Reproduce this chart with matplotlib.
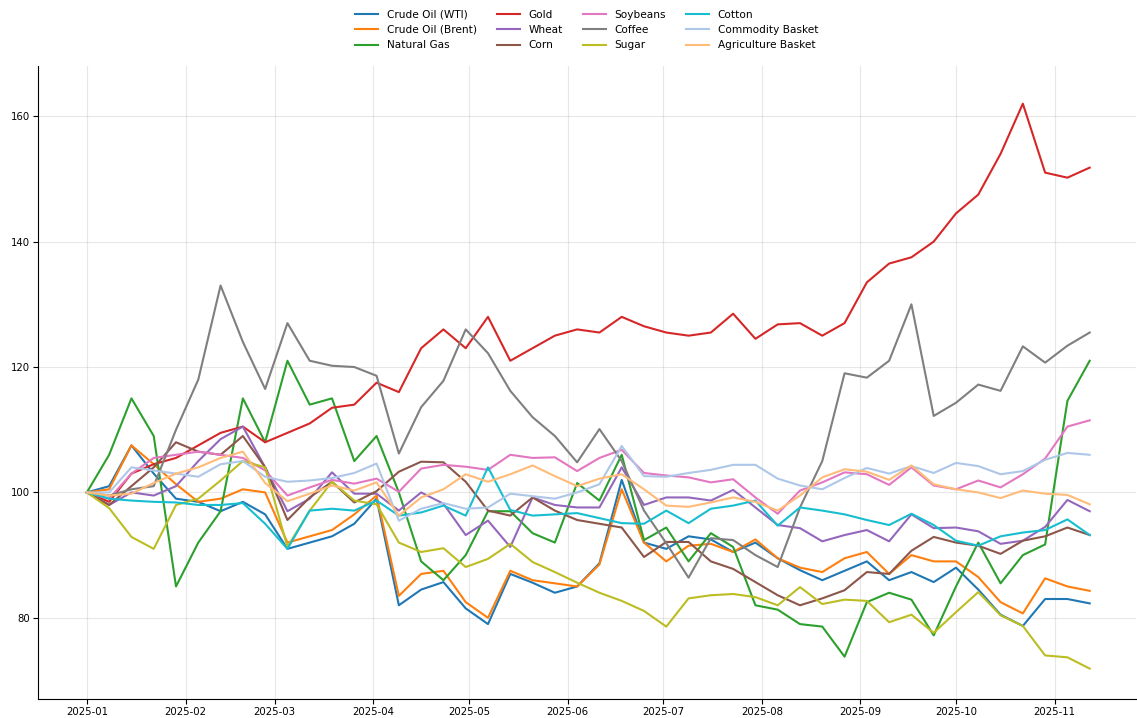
import pandas as pd
import matplotlib
matplotlib.use("Agg")
import matplotlib.pyplot as plt
import matplotlib.dates as mdates

# weekly index values (base 100 on 2025-01-01)
dates = pd.date_range("2025-01-01", periods=46, freq="7D")

wti = [100, 101, 107.5, 103, 99, 98.5, 97, 98.5, 96.5, 91, 92, 93, 95, 99, 82, 84.5,
       85.7, 81.5, 79, 87, 85.6, 84, 85, 88.7, 102, 92, 91, 93, 92.5, 90.5, 92, 89.5,
       87.6, 86, 87.5, 89, 86, 87.3, 85.7, 88, 84.5, 80.5, 78.7, 83, 83, 82.3]
brent = [100, 100.5, 107.5, 104.5, 101.3, 98.5, 99, 100.5, 100, 92, 93, 94, 96.5, 99.5,
         83.5, 87, 87.5, 82.5, 80, 87.5, 86, 85.5, 85, 88.5, 100.5, 92, 89, 91.5, 91.8,
         90.5, 92.5, 89.5, 88, 87.3, 89.5, 90.5, 87, 90, 89, 89, 86.5, 82.5, 80.7, 86.3,
         85, 84.3]
natgas = [100, 106, 115, 109, 85, 92, 97, 115, 108, 121, 114, 115, 105, 109, 100, 89, 86,
          90, 97, 97, 93.5, 92, 101.5, 98.7, 106, 92.4, 94.4, 89, 93.5, 91.3, 82, 81.3, 79,
          78.6, 73.8, 82.5, 84, 82.9, 77.2, 85, 92, 85.5, 90, 91.7, 114.6, 121]
gold = [100, 98.5, 103, 104.5, 105.5, 107.5, 109.5, 110.5, 108, 109.5, 111, 113.5, 114,
        117.5, 116, 123, 126, 123, 128, 121, 123, 125, 126, 125.5, 128, 126.5, 125.5, 125,
        125.5, 128.5, 124.5, 126.8, 127, 125, 127, 133.5, 136.5, 137.5, 140, 144.5, 147.5,
        154, 162, 151, 150.2, 151.8]
wheat = [100, 98, 100, 99.5, 101, 105, 108.5, 110.5, 104, 97, 99, 103.2, 99.8, 99.8, 97.1,
         100, 98.2, 93.2, 95.5, 91.3, 99.2, 98, 97.6, 97.6, 104, 98, 99.2, 99.2, 98.7,
         100.4, 97.6, 94.8, 94.3, 92.2, 93.2, 94, 92.2, 96.5, 94.3, 94.4, 93.8, 91.8, 92.3,
         94.5, 98.8, 97]
corn = [100, 98, 101, 104, 108, 106.5, 106, 109, 104, 95.6, 99.2, 101.7, 98.4, 100.2,
        103.3, 104.9, 104.8, 101.7, 97.1, 96.3, 99.2, 97.1, 95.6, 95, 94.4, 89.7, 92.1,
        92.1, 89, 87.8, 85.7, 83.6, 82, 83.1, 84.4, 87.3, 87, 90.7, 92.9, 92, 91.5, 90.2,
        92.3, 93, 94.4, 93.2]
soybeans = [100, 99, 103, 105.5, 106, 106.5, 106, 105.5, 103.5, 99.5, 100.8, 102, 101.4,
            102.2, 100.1, 103.8, 104.4, 104.1, 103.6, 106, 105.5, 105.6, 103.4, 105.5,
            106.8, 103.1, 102.7, 102.4, 101.6, 102.1, 99.2, 96.6, 100.3, 101.6, 103.2,
            102.9, 101.2, 104, 101.1, 100.5, 101.9, 100.8, 102.9, 105.4, 110.5, 111.5]
coffee = [100, 99.5, 100.5, 101, 110, 118, 133, 124, 116.5, 127, 121, 120.2, 120, 118.6,
          106.2, 113.6, 117.8, 126, 122.2, 116.2, 112, 109, 104.8, 110.1, 105, 97.1, 91.9,
          86.4, 92.7, 92.4, 90, 88.1, 97.6, 105, 119, 118.3, 121, 130, 112.2, 114.3, 117.2,
          116.2, 123.3, 120.7, 123.4, 125.5]
sugar = [100, 97.5, 92.9, 91, 98, 99, 101.9, 105, 104, 91.3, 97.1, 101.7, 98.7, 98.1, 92,
         90.5, 91.1, 88.1, 89.4, 91.8, 88.9, 87.3, 85.6, 84, 82.7, 81.1, 78.6, 83.1, 83.6,
         83.8, 83.3, 82, 84.9, 82.2, 82.9, 82.7, 79.3, 80.5, 77.6, 80.9, 84.1, 80.4, 78.7,
         74, 73.7, 71.9]
cotton = [100, 99, 98.7, 98.5, 98.4, 98, 98, 98.3, 95, 91, 97.1, 97.4, 97.1, 98.7, 96.3,
          96.8, 97.9, 96.3, 104, 97.2, 96.3, 96.5, 96.7, 95.9, 95.1, 95, 97.1, 95.1, 97.4,
          97.9, 98.7, 94.7, 97.6, 97.1, 96.5, 95.6, 94.8, 96.6, 94.8, 92.3, 91.5, 93, 93.6,
          94, 95.7, 93.2]
commodity = [100, 100, 104, 103.5, 103, 102.5, 104.5, 105, 102.5, 101.7, 101.9, 102.3,
             103.1, 104.6, 95.5, 97.4, 98.3, 97.4, 97.6, 99.8, 99.4, 99, 100, 101.3, 107.4,
             102.6, 102.5, 103.1, 103.6, 104.4, 104.4, 102.2, 101.1, 100.5, 102.3, 103.9,
             103, 104.2, 103.1, 104.7, 104.2, 102.9, 103.4, 105.2, 106.3, 106]
agri = [100, 99.5, 99.8, 101.5, 103, 104, 105.5, 106.5, 101.5, 98.6, 99.8, 101.1, 100.3,
        101.6, 96.3, 99.2, 100.5, 102.9, 101.7, 102.9, 104.3, 102.6, 101, 102.2, 102.9,
        100.5, 97.9, 97.7, 98.4, 99.2, 98.5, 97.1, 99.5, 102.4, 103.7, 103.3, 102, 104.3,
        101.3, 100.5, 100, 99.1, 100.3, 99.8, 99.6, 98.1]

series = [
    ("Crude Oil (WTI)", wti, "#1f77b4"),
    ("Crude Oil (Brent)", brent, "#ff7f0e"),
    ("Natural Gas", natgas, "#2ca02c"),
    ("Gold", gold, "#d62728"),
    ("Wheat", wheat, "#9467bd"),
    ("Corn", corn, "#8c564b"),
    ("Soybeans", soybeans, "#e377c2"),
    ("Coffee", coffee, "#7f7f7f"),
    ("Sugar", sugar, "#bcbd22"),
    ("Cotton", cotton, "#17becf"),
    ("Commodity Basket", commodity, "#aec7e8"),
    ("Agriculture Basket", agri, "#ffbb78"),
]

fig, ax = plt.subplots(figsize=(11.37, 7.18), dpi=100)
fig.subplots_adjust(left=0.033, right=0.999, bottom=0.026, top=0.908)

for name, vals, col in series:
    ax.plot(dates, vals, color=col, lw=1.5, label=name)

ax.set_xlim(pd.Timestamp("2024-12-16 12:00"), pd.Timestamp("2025-11-26 12:00"))
ax.set_ylim(67, 168)
ax.set_yticks(range(80, 161, 20))
ax.xaxis.set_major_locator(mdates.MonthLocator())
ax.xaxis.set_major_formatter(mdates.DateFormatter("%Y-%m"))
ax.grid(True, color="#b0b0b0", alpha=0.3, lw=0.8)
ax.spines[["top", "right"]].set_visible(False)
ax.tick_params(labelsize=7.3, length=3.5, pad=2)

ax.legend(loc="lower center", bbox_to_anchor=(0.5, 1.01), ncol=4, frameon=False,
          fontsize=7.6, handlelength=2.2, columnspacing=1.9)

fig.savefig("out.png", dpi=100)
